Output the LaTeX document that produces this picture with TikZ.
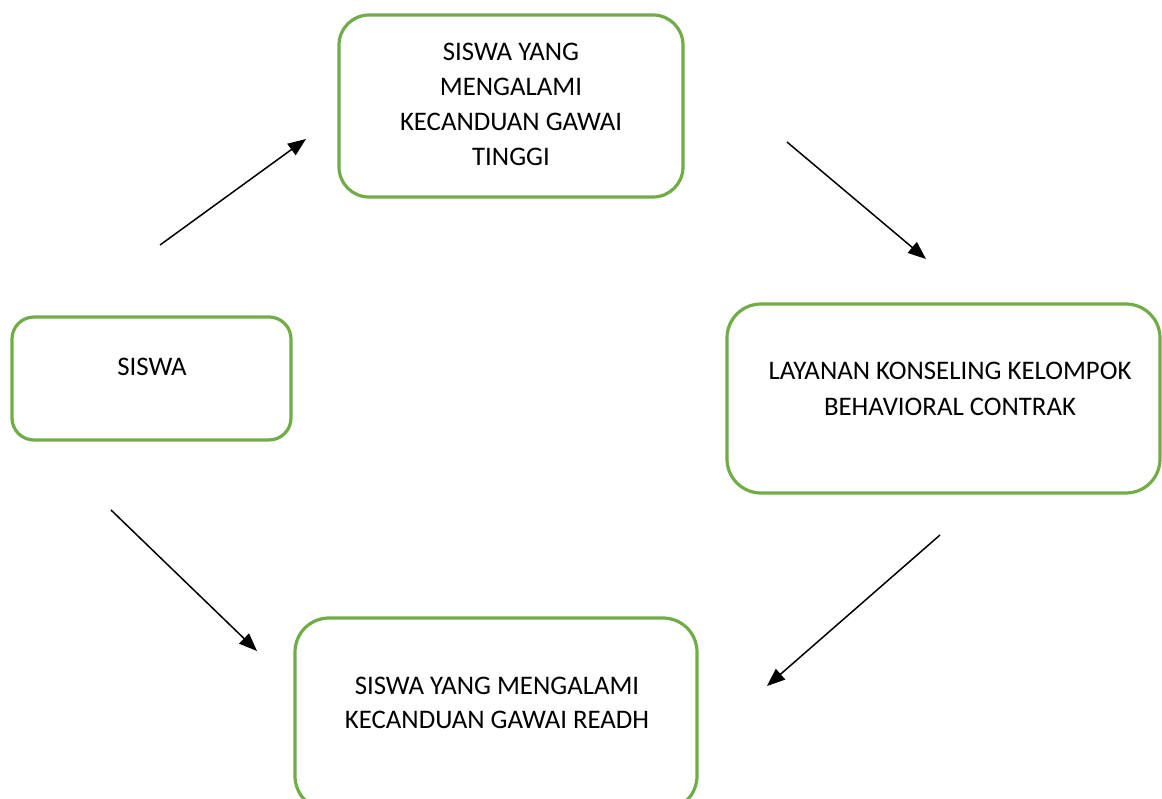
\documentclass[tikz,border=0pt]{standalone}
\usepackage{fontspec}
\setmainfont{Carlito}
\usetikzlibrary{arrows.meta}
\definecolor{boxgreen}{RGB}{112,173,71}
\begin{document}
\begin{tikzpicture}[x=1pt,y=-1pt,
  box/.style={draw=boxgreen,line width=3.2pt,rounded corners=#1,inner sep=0pt},
  txt/.style={font=\fontsize{26.8}{35}\selectfont,align=center,inner sep=0pt,anchor=base},
  conn/.style={line width=1.5pt,-{Triangle[length=18pt,width=14pt]}}]
\useasboundingbox (0,0) rectangle (1162,799);
% boxes
\draw[box=30] (339,15) rectangle (683,197);
\draw[box=22] (12,317) rectangle (291,440);
\draw[box=34] (727,304) rectangle (1160,493);
\draw[box=34] (295,618) rectangle (697,810);
% texts
\node[txt] (t1) at (511,61) {SISWA YANG};
\node[txt] (t2) at (511,96) {MENGALAMI};
\node[txt] (t3) at (511,131) {KECANDUAN GAWAI};
\node[txt] (t4) at (511,166) {TINGGI};
\node[txt] (s) at (152,376) {SISWA};
\node[txt] (l1) at (950,380) {LAYANAN KONSELING KELOMPOK};
\node[txt] (l2) at (950,415) {BEHAVIORAL CONTRAK};
\node[txt] (b1) at (497,694) {SISWA YANG MENGALAMI};
\node[txt] (b2) at (497,728) {KECANDUAN GAWAI READH};
% arrow end points
\coordinate (a1s) at (160,245); \coordinate (a1e) at (306,139);
\coordinate (a2s) at (787,142); \coordinate (a2e) at (926,259);
\coordinate (a3s) at (940,535); \coordinate (a3e) at (767,686);
\coordinate (a4s) at (111,510); \coordinate (a4e) at (257,651);
\draw[conn] (a1s) -- (a1e);
\draw[conn] (a2s) -- (a2e);
\draw[conn] (a3s) -- (a3e);
\draw[conn] (a4s) -- (a4e);
\end{tikzpicture}
\end{document}
